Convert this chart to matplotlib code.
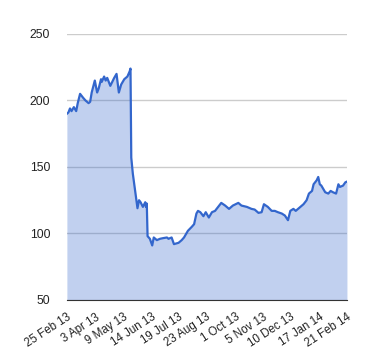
import numpy as np
import pandas as pd
import matplotlib.pyplot as plt

start = pd.Timestamp('2013-02-25')
day = [0, 2, 4, 6, 9, 12, 14, 17, 21, 24, 28, 30, 32, 36, 39, 41, 44, 45, 48, 50,
       52, 56, 61, 64, 67, 70, 74, 78, 81, 82, 83, 85, 88, 91, 93, 95, 98, 101, 102, 103,
       104, 107, 110, 112, 116, 120, 124, 129, 131, 135, 138, 144, 148, 151, 156, 161, 164, 167, 169, 172,
       176, 179, 183, 187, 191, 195, 199, 204, 209, 214, 221, 225, 232, 238, 242, 247, 251, 254, 259, 264,
       268, 272, 277, 281, 285, 288, 292, 295, 298, 301, 305, 309, 312, 316, 318, 322, 324, 326, 328, 333,
       337, 340, 343, 347, 350, 352, 356, 359, 361]
price = [190, 191, 194, 192, 195, 192, 198, 205, 202, 200, 198, 199, 206, 215, 206, 209, 216, 214, 218, 215,
         217, 211, 217, 220, 206, 212, 216, 218, 222, 224, 157, 145, 132, 119, 125, 123.5, 120, 123.5, 120, 122.5,
         98, 96, 91, 97, 95, 96, 96.5, 97, 96, 97, 92, 93, 95, 97, 102, 105, 107, 115, 117, 116,
         113, 116, 112, 116, 117, 120, 123, 121, 118.5, 121, 123, 121, 120, 118.5, 118, 115.5, 116, 122, 120, 117,
         117, 116, 115, 113.5, 110, 117, 118.5, 117, 118.5, 120, 122, 125, 130, 132, 137, 140, 142.5, 137, 136, 131,
         130, 132, 131, 130, 137, 135, 136, 138.5, 139]
tick_labels = ['25 Feb 13', '3 Apr 13', '9 May 13', '14 Jun 13', '19 Jul 13', '23 Aug 13',
               '1 Oct 13', '5 Nov 13', '10 Dec 13', '17 Jan 14', '21 Feb 14']

dates = start + pd.to_timedelta(day, unit='D')
tick_dates = pd.to_datetime(tick_labels, format='%d %b %y')

plt.rcParams['font.family'] = ['Liberation Sans', 'DejaVu Sans']
fig = plt.figure(figsize=(3.8, 3.6), dpi=100)
ax = fig.add_axes([0.176, 0.1667, 0.737, 0.7389])

ax.fill_between(dates, price, 50, color='#3366cc', alpha=0.3, linewidth=0)
ax.plot(dates, price, color='#3366cc', linewidth=1.6)

ax.set_ylim(50, 250)
ax.set_yticks([50, 100, 150, 200, 250])
ax.set_xlim(dates[0], dates[-1])
ax.set_xticks(tick_dates)
ax.set_xticklabels(tick_labels, rotation=33, ha='right', va='top', rotation_mode='anchor')
ax.grid(axis='y', color='#cccccc', linewidth=1)
ax.set_axisbelow(True)
for s in ['top', 'right', 'left']:
    ax.spines[s].set_visible(False)
ax.spines['bottom'].set_color('#333333')
ax.spines['bottom'].set_zorder(5)
ax.tick_params(length=0, labelcolor='#222222')
ax.tick_params(axis='y', pad=12, labelsize=8.8)
ax.tick_params(axis='x', pad=8, labelsize=8.3)

plt.savefig('out.png', dpi=100)
